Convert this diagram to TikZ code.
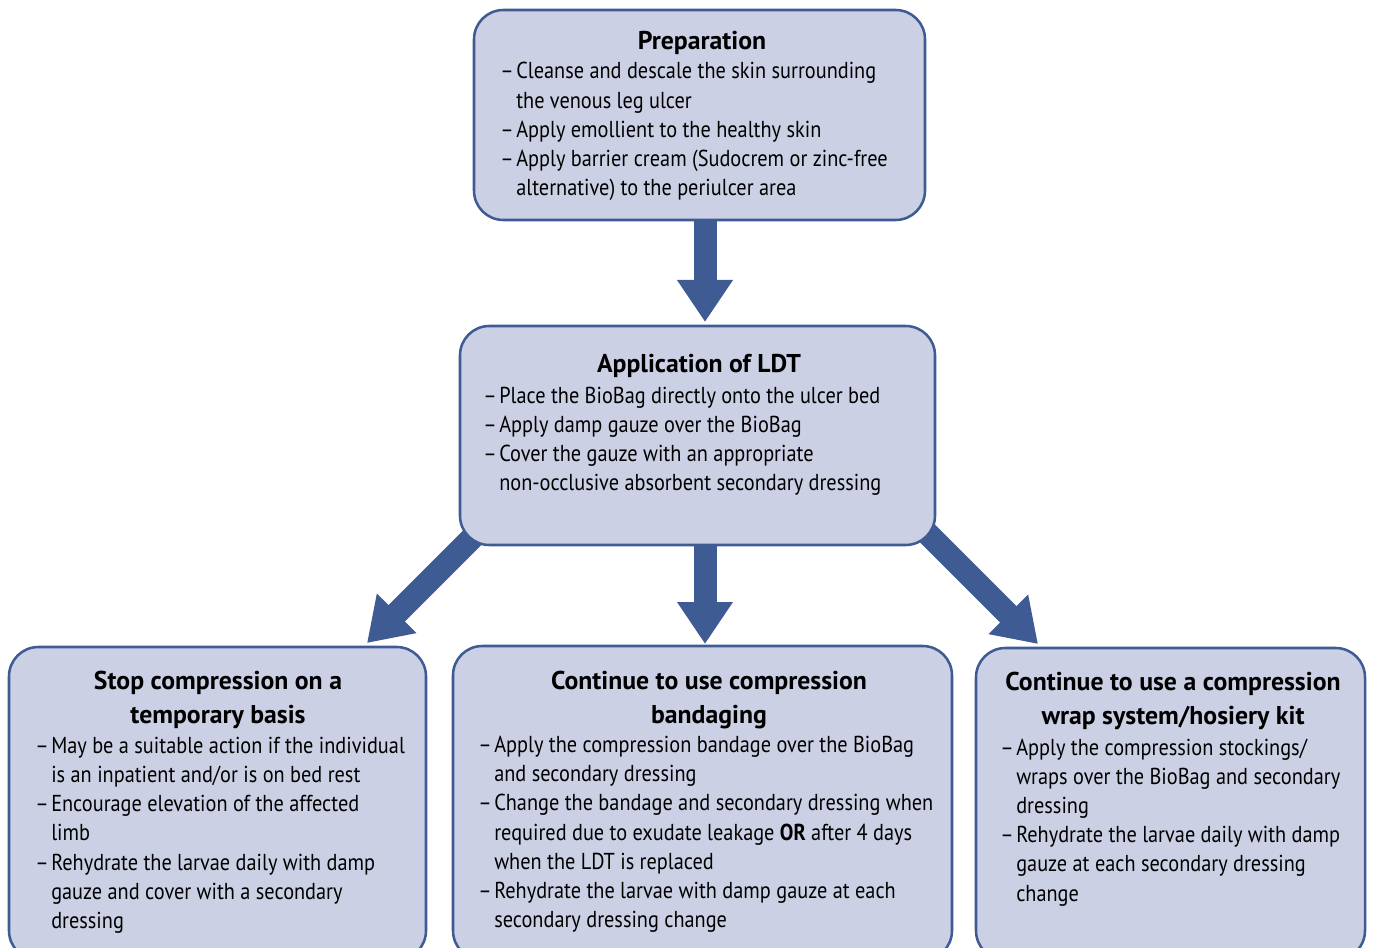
\documentclass[tikz,border=0pt]{standalone}
\usepackage{fontspec}
\setmainfont{PT Sans}
\newfontfamily\bodyfont{PT Sans}[FakeStretch=0.88]
\usetikzlibrary{arrows.meta,calc}
\definecolor{boxfill}{RGB}{203,208,228}
\definecolor{boxline}{RGB}{63,91,147}
\definecolor{arrowcol}{RGB}{62,91,148}
\newcommand\dsh{\makebox[12pt][l]{–}}
\newcommand\ind{\hspace*{12pt}}
\newcommand\blist[1]{\begin{tabular}[t]{@{}l@{}}#1\end{tabular}}
\newcommand\tlist[1]{\begin{tabular}[t]{@{}c@{}}#1\end{tabular}}
\begin{document}
\begin{tikzpicture}[x=0.75pt,y=-0.75pt,
  box/.style={draw=boxline, fill=boxfill, line width=1.9pt, rounded corners=22pt, inner sep=0pt},
  bigarrow/.style={arrowcol, line width=17.25pt, -{Triangle[length=31.5pt,width=39.75pt]}},
  title/.style={inner sep=0pt, anchor=base, font=\bfseries\fontsize{19.3}{25.5}\selectfont},
  body/.style={inner sep=0pt, anchor=base west, font=\bodyfont\fontsize{17.3}{21.9}\selectfont}]
\useasboundingbox (0,0) rectangle (1373,948);
\clip (0,0) rectangle (1373,948);
\coordinate (tipA) at (705,322);
\coordinate (tipB) at (705,644);
\coordinate (tipC) at (367,643);
\coordinate (tipD) at (1038,644);
\path (699.5,115) node[minimum width=338.25pt, minimum height=157.5pt, inner sep=0pt] (prep0) {};
\path (697.5,435.5) node[minimum width=356.25pt, minimum height=164.25pt, inner sep=0pt] (ldt0) {};
% arrows
\draw[bigarrow] ($(prep0.south -| tipA)+(0,-6)$) -- (tipA);
\draw[bigarrow] ($(ldt0.south -| tipB)+(0,-6)$) -- (tipB);
\draw[bigarrow] ($(tipC)+(140,-140)$) -- (tipC);
\draw[bigarrow] ($(tipD)+(-140,-140)$) -- (tipD);
% boxes
\node[box, minimum width=338.25pt, minimum height=157.5pt] (prep) at (699.5,115) {};
\node[box, minimum width=356.25pt, minimum height=164.25pt] (ldt) at (697.5,435.5) {};
\node[box, minimum width=312.75pt, minimum height=234.75pt] (stop) at (217.5,803.5) {};
\node[box, minimum width=374.25pt, minimum height=235.5pt] (band) at (702.5,803) {};
\node[box, minimum width=291.75pt, minimum height=234pt] (wrap) at (1170.5,804) {};
% texts
\node[title] (prept) at (702,49.3) {Preparation};
\node[body] (prepb) at (500,79) {\blist{\dsh Cleanse and descale the skin surrounding\\
\ind the venous leg ulcer\\
\dsh Apply emollient to the healthy skin\\
\dsh Apply barrier cream (Sudocrem or zinc-free\\
\ind alternative) to the periulcer area}};
\node[title] (ldtt) at (699,372.5) {Application of LDT};
\node[body] (ldtb) at (483,403) {\blist{\dsh Place the BioBag directly onto the ulcer bed\\
\dsh Apply damp gauze over the BioBag\\
\dsh Cover the gauze with an appropriate\\
\ind non-occlusive absorbent secondary dressing}};
\node[title] (stopt) at (218,689.3) {\tlist{Stop compression on a\\temporary basis}};
\node[body] (stopb) at (35,753.3) {\blist{\dsh May be a suitable action if the individual\\
\ind is an inpatient and/or is on bed rest\\
\dsh Encourage elevation of the affected\\
\ind limb\\
\dsh Rehydrate the larvae daily with damp\\
\ind gauze and cover with a secondary\\
\ind dressing}};
\node[title] (bandt) at (709,689) {\tlist{Continue to use compression\\bandaging}};
\node[body] (bandb) at (478,752.5) {\blist{\dsh Apply the compression bandage over the BioBag\\
\ind and secondary dressing\\
\dsh Change the bandage and secondary dressing when\\
\ind required due to exudate leakage \textbf{OR} after 4 days\\
\ind when the LDT is replaced\\
\dsh Rehydrate the larvae with damp gauze at each\\
\ind secondary dressing change}};
\node[title] (wrapt) at (1173,690) {\tlist{Continue to use a compression\\wrap system/hosiery kit}};
\node[body] (wrapb) at (1000,755) {\blist{\dsh Apply the compression stockings/\\
\ind wraps over the BioBag and secondary\\
\ind dressing\\
\dsh Rehydrate the larvae daily with damp\\
\ind gauze at each secondary dressing\\
\ind change}};
\end{tikzpicture}
\end{document}
